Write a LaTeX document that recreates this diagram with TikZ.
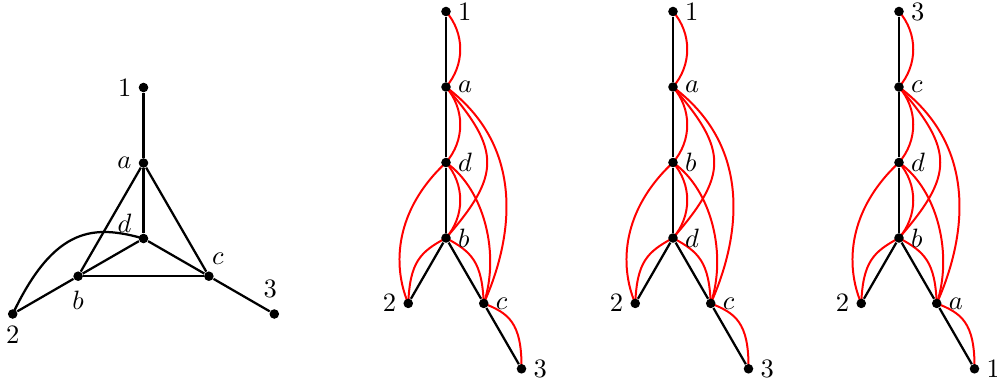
\documentclass[tikz,border=0pt]{standalone}
\usetikzlibrary{backgrounds}
\begin{document}
\begin{tikzpicture}[x=0.013245cm,y=-0.013245cm,
  dot/.style={circle, fill=black, inner sep=0pt, minimum size=3.6pt},
  lbl/.style={label distance=-1pt},
  clbl/.style={anchor=center, label distance=#1},
  treeedge/.style={line width=0.85pt, black},
  rededge/.style={line width=0.75pt, red}]
\useasboundingbox (0,0) rectangle (997,385);

% ---- the graph ----
\node[dot,label={[lbl]left:$1$}] (g1) at (143.5,87.5) {};
\node[dot,label={[lbl]left:$a$}] (ga) at (143.5,163) {};
\node[dot,label={[clbl=7.2pt]141:$d$}] (gd) at (143.5,238.5) {};
\node[dot,label={[clbl=7.05pt]270:$b$}] (gb) at (78.1,276.2) {};
\node[dot,label={[clbl=5.4pt]63:$c$}] (gc) at (208.9,276.2) {};
\node[dot,label={[lbl]below:$2$}] (g2) at (12.7,314) {};
\node[dot,label={[clbl=7.55pt]99:$3$}] (g3) at (274.3,314) {};
\begin{scope}[on background layer]
  \draw[treeedge] (g1) -- (ga);
  \draw[treeedge] (ga) -- (gd);
  \draw[treeedge] (ga) -- (gb);
  \draw[treeedge] (ga) -- (gc);
  \draw[treeedge] (gd) -- (gb);
  \draw[treeedge] (gd) -- (gc);
  \draw[treeedge] (gb) -- (gc);
  \draw[treeedge] (gb) -- (g2);
  \draw[treeedge] (gc) -- (g3);
  \draw[treeedge] (g2.center) .. controls (55,225) and (95,225) .. (gd.center);
\end{scope}

% ---- the three trees ----
\foreach \t/\X/\la/\lb/\lc/\ld/\lf/\lg in {2/446/1/a/d/b/c/3, 3/673/1/a/b/d/c/3, 4/899/3/c/d/b/a/1}{
  \node[dot,label={[lbl]right:$\la$}] (t\t-1) at (\X,11.5) {};
  \node[dot,label={[lbl]right:$\lb$}] (t\t-2) at (\X,87) {};
  \node[dot,label={[lbl]right:$\lc$}] (t\t-3) at (\X,162.5) {};
  \node[dot,label={[lbl]right:$\ld$}] (t\t-4) at (\X,238) {};
  \node[dot,label={[lbl]left:$2$}] (t\t-5) at (\X-37.75,303.4) {};
  \node[dot,label={[lbl]right:$\lf$}] (t\t-6) at (\X+37.75,303.4) {};
  \node[dot,label={[lbl]right:$\lg$}] (t\t-7) at (\X+75.5,368.8) {};
  \begin{scope}[on background layer]
    \draw[treeedge] (t\t-1) -- (t\t-2);
    \draw[treeedge] (t\t-2) -- (t\t-3);
    \draw[treeedge] (t\t-3) -- (t\t-4);
    \draw[treeedge] (t\t-4) -- (t\t-5);
    \draw[treeedge] (t\t-4) -- (t\t-6);
    \draw[treeedge] (t\t-6) -- (t\t-7);
    \draw[rededge] (t\t-1.center) .. controls (\X+19,33.5) and (\X+19,65) .. (t\t-2.center);
    \draw[rededge] (t\t-2.center) .. controls (\X+19,109) and (\X+19,140.5) .. (t\t-3.center);
    \draw[rededge] (t\t-3.center) .. controls (\X+19,184.5) and (\X+19,216) .. (t\t-4.center);
    \draw[rededge] (t\t-2.center) .. controls (\X+55,150) and (\X+55,175) .. (t\t-4.center);
    \draw[rededge] (t\t-2.center) .. controls (\X+84,150) and (\X+64,245) .. (t\t-6.center);
    \draw[rededge] (t\t-3.center) .. controls (\X-51,210) and (\X-54,265) .. (t\t-5.center);
    \draw[rededge] (t\t-3.center) .. controls (\X+39,190) and (\X+54,255) .. (t\t-6.center);
    \draw[rededge] (t\t-4.center) .. controls (\X-26,252) and (\X-36,262) .. (t\t-5.center);
    \draw[rededge] (t\t-4.center) .. controls (\X+26,252) and (\X+36,262) .. (t\t-6.center);
    \draw[rededge] (t\t-6.center) .. controls (\X+62,313) and (\X+76,322) .. (t\t-7.center);
  \end{scope}
}
\end{tikzpicture}
\end{document}
